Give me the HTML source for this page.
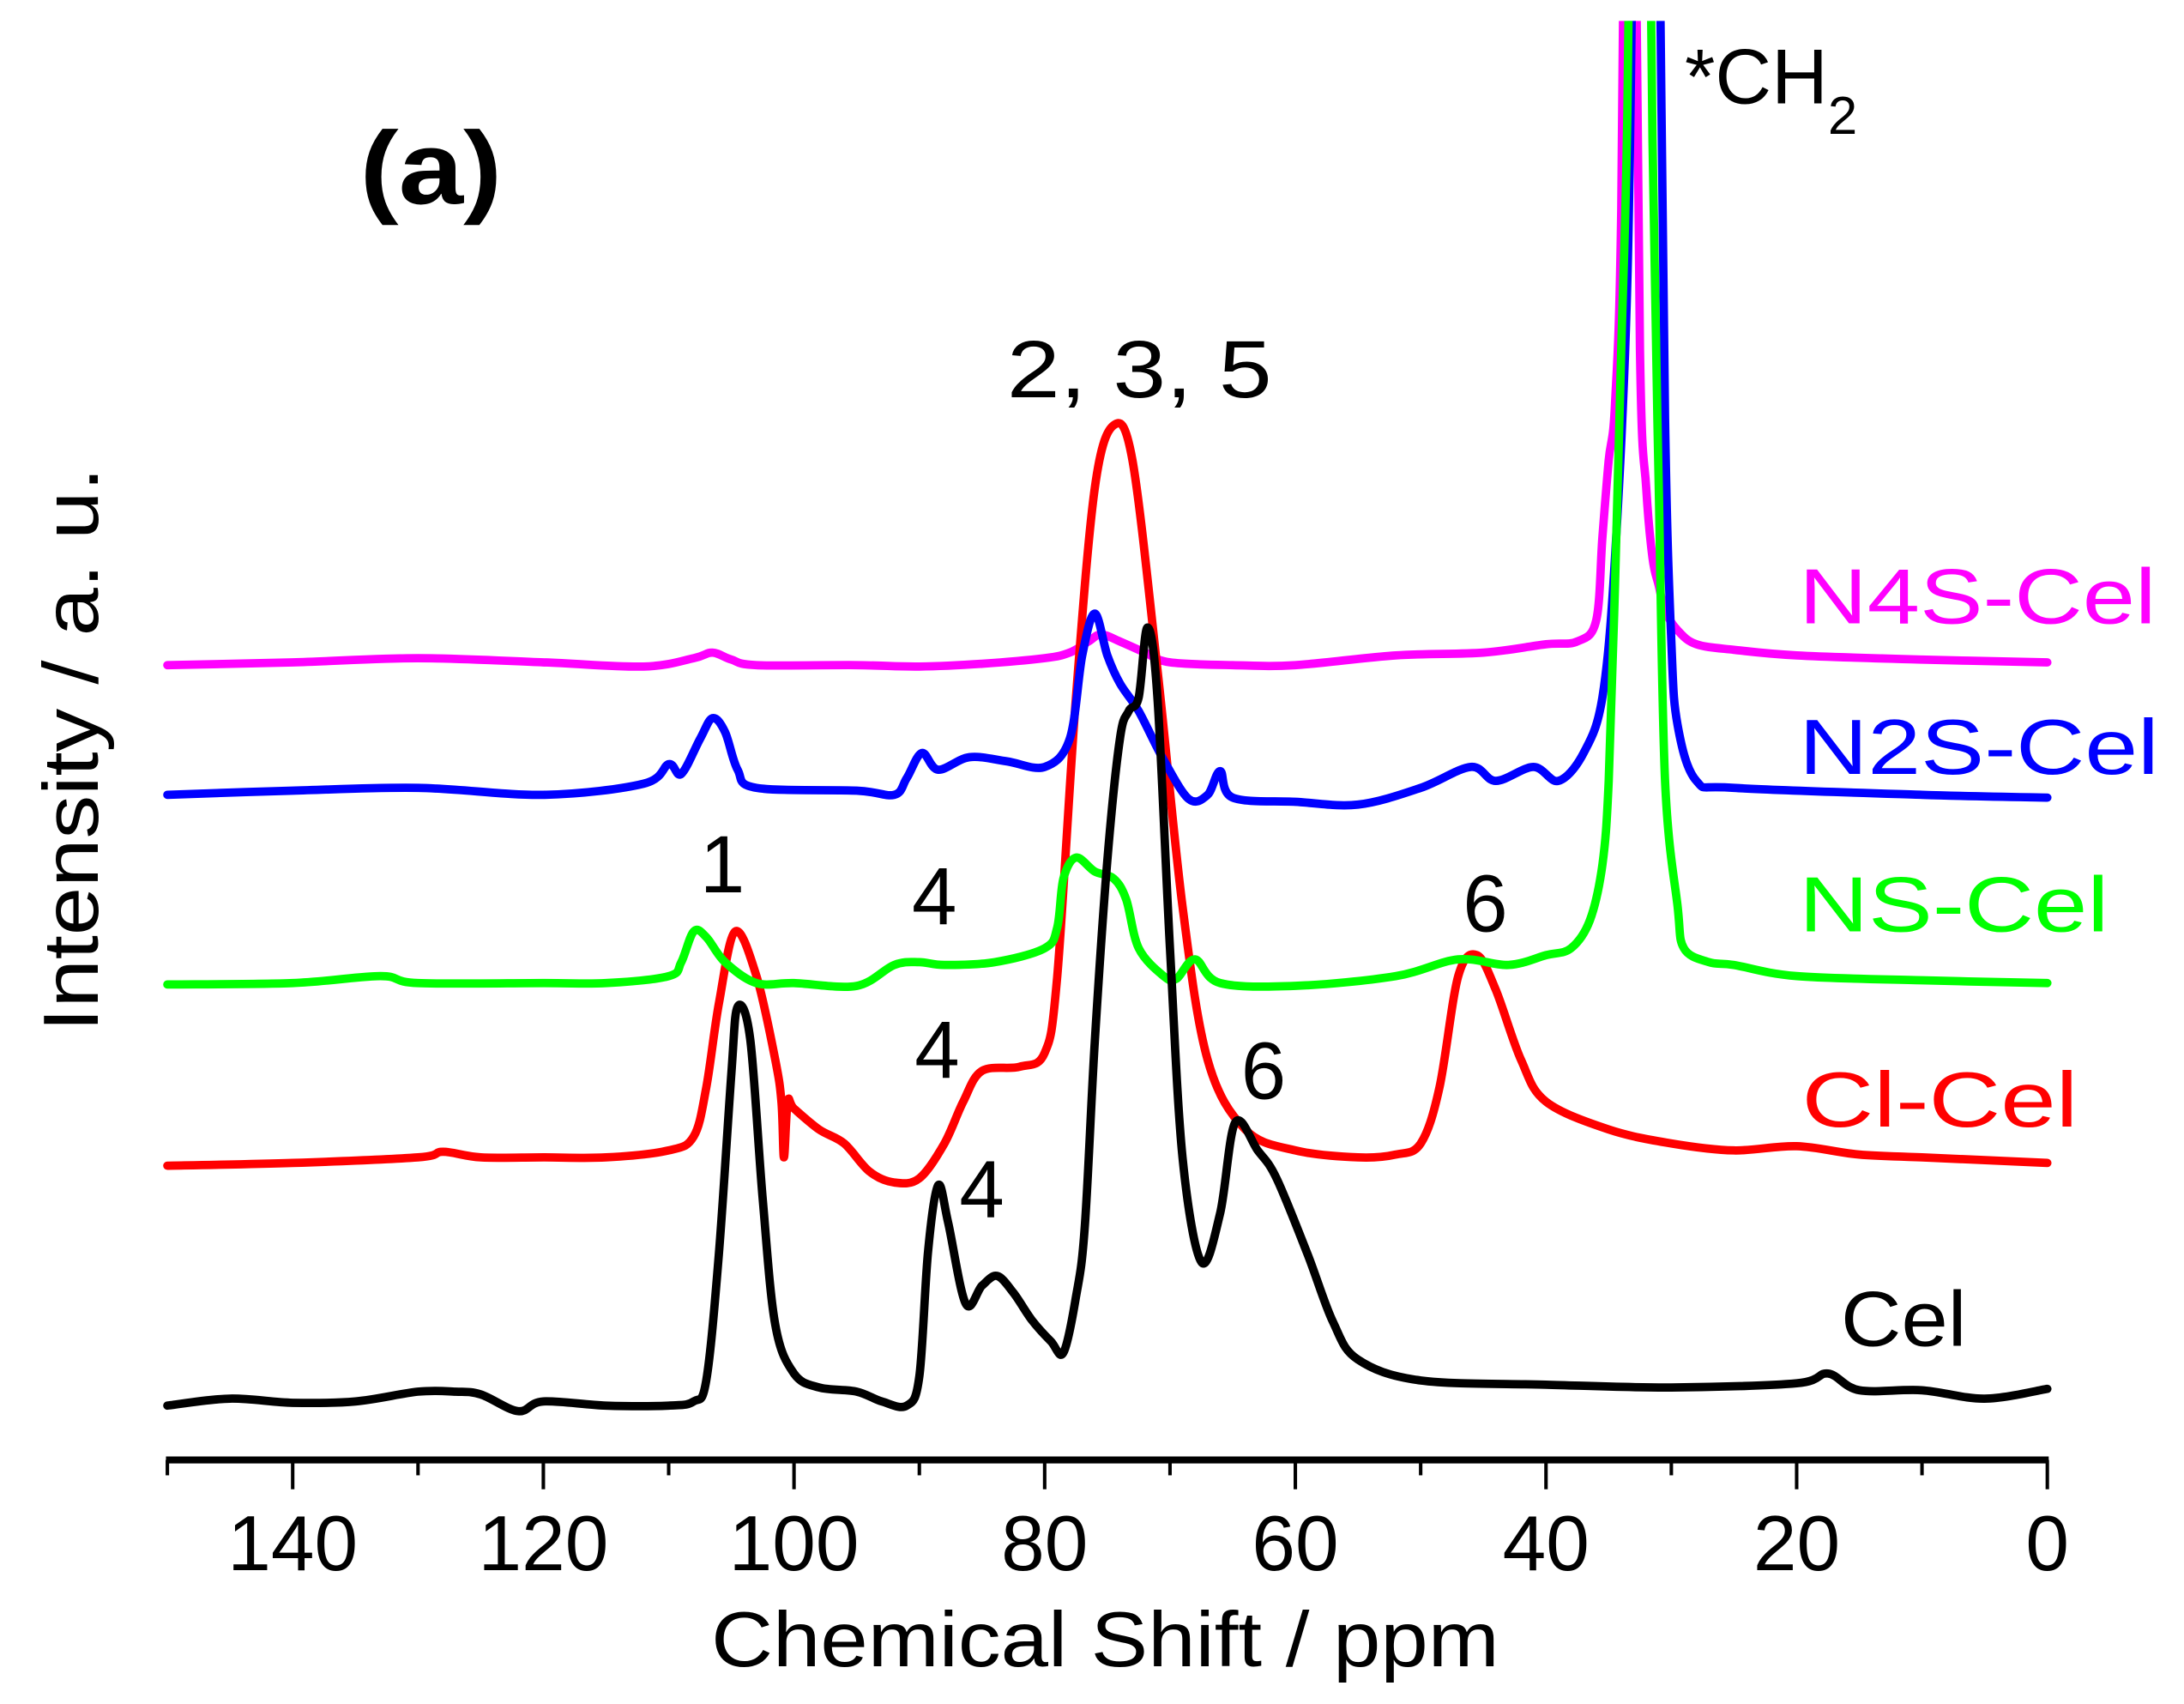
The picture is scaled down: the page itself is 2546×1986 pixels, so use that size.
<!DOCTYPE html>
<html><head><meta charset="utf-8"><style>
html,body{margin:0;padding:0;background:#fff;}
svg{display:block;}
text{font-family:"Liberation Sans",Arial,sans-serif;}
</style></head><body>
<svg id="chart" width="2546" height="1986" viewBox="0 0 1566 1222" preserveAspectRatio="none" xmlns="http://www.w3.org/2000/svg">
<defs><clipPath id="plotclip"><rect x="100" y="15" width="1400" height="1030"/></clipPath></defs>
<g id="axes"></g>
<g id="series" clip-path="url(#plotclip)"></g>
<text x="258" y="146" font-size="74" font-weight="bold" textLength="102" lengthAdjust="spacingAndGlyphs">(a)</text>
<text x="1208" y="74" font-size="56">*CH<tspan font-size="38" dy="22">2</tspan></text>
<text x="722" y="285" font-size="58" textLength="190" lengthAdjust="spacingAndGlyphs">2, 3, 5</text>
<text x="518" y="640" font-size="58" text-anchor="middle">1</text>
<text x="670" y="663" font-size="58" text-anchor="middle">4</text>
<text x="672" y="773" font-size="58" text-anchor="middle">4</text>
<text x="704" y="873" font-size="58" text-anchor="middle">4</text>
<text x="1065" y="668" font-size="58" text-anchor="middle">6</text>
<text x="906" y="788" font-size="58" text-anchor="middle">6</text>
<text x="1290" y="447" font-size="56" fill="#ff00ff" textLength="256" lengthAdjust="spacingAndGlyphs">N4S-Cel</text>
<text x="1290" y="555" font-size="56" fill="#0000ff" textLength="258" lengthAdjust="spacingAndGlyphs">N2S-Cel</text>
<text x="1290" y="668" font-size="56" fill="#00ff00" textLength="222" lengthAdjust="spacingAndGlyphs">NS-Cel</text>
<text x="1292" y="808" font-size="56" fill="#ff0000" textLength="198" lengthAdjust="spacingAndGlyphs">Cl-Cel</text>
<text x="1320" y="965" font-size="56" fill="#000" textLength="90" lengthAdjust="spacingAndGlyphs">Cel</text>
<text x="510" y="1195" font-size="56" textLength="565" lengthAdjust="spacingAndGlyphs">Chemical Shift / ppm</text>
<text transform="translate(70,740) rotate(-90)" font-size="56" textLength="405" lengthAdjust="spacingAndGlyphs">Intensity / a. u.</text>
</svg>
<script>
const xTickValues=[140,120,100,80,60,40,20,0];
const xTickLabels=["140","120","100","80","60","40","20","0"];
const xMinorTicks=[150,130,110,90,70,50,30,10];

const celPpm=[150,145,140,135,130,127,125,122,120,115,110,108,107,106,105,104.5,103.5,102.5,101.5,100,98,95,93,91,90,89.3,88.5,87.7,86.3,85,83.8,82.5,81,79.5,78.5,77.5,76.8,76,75,74,73.3,72.5,71.8,71,70,69,67.5,66,64.8,63,61.5,59,57,55,50,40,30,20,17.5,15,10,5,0];
const celInt=[39,44,41,42,49,49,47,35,42,39,39,42,57,147,277,325,302,187,97,62,52,49,42,39,60,150,197,170,112,125,132,120,100,85,77,117,167,300,430,517,537,547,597,547,367,217,142,177,242,222,202,147,99,72,57,54,52,55,62,50,50,44,51];

const clPpm=[150,140,130,128,125,120,115,110,108,107,106,104.7,103,101.5,101,100.8,100.5,100,98,96,94,92,90,88,86.5,85,82,80,79,77.5,76,74.5,73,71,69,67,64,60,55,52,50,48.5,47,45.5,44,42,40,35,30,25,20,15,10,0];
const clInt=[211,213,217,221,217,217,217,222,232,267,327,379,347,287,257,217,257,252,237,227,207,199,202,227,257,279,282,292,347,547,697,742,717,567,397,287,237,222,217,219,227,267,347,362,337,287,257,237,227,222,225,219,217,213];

const nsPpm=[150,140,133,130,120,115,110,109,108,107,105.5,103,100,95,92,90,88,84,80,79,78.5,77.5,76,74.5,73.5,72.5,70.5,69.5,68,66,60,52,47,43,40,38,36.5,35.5,35,34.5,34,33.5,33,32.5,32,31.5,31,30.5,29.5,29,27,25,20,10,0];
const nsInt=[341,342,347,342,342,342,347,357,379,375,357,342,342,340,355,357,355,357,367,382,417,432,422,417,402,367,347,345,359,342,340,347,359,355,362,367,387,427,487,627,797,967,1347,1447,1347,947,697,487,397,367,357,355,347,344,342];

const n2sPpm=[150,140,130,120,112,110,109,107.5,106.5,105.5,104.5,103,95,92,91,89.8,88.5,86,83,80,78,77,76,75,74,72.5,70.5,68.5,67,66,65,60,55,50,46,44,41,39,37,35.5,34.5,33.5,33,32.5,32,31.5,31,30.5,30,29.5,28,25,10,0];
const n2sInt=[477,480,482,477,485,499,492,517,532,522,495,482,480,477,489,507,495,504,501,497,517,577,607,577,557,537,502,474,477,494,475,472,470,482,497,487,497,487,507,547,647,847,1147,1447,1497,1447,1147,747,587,527,487,482,477,475];

const n4sPpm=[150,140,130,120,112,108,106.5,105,103,95,90,85,80,78,76.5,75.5,74,72,70,65,60,52,45,40,37.5,36,35.5,35,34.5,34,33.5,33,32.5,32,31.5,31,30.5,29.5,28,25,20,10,0];
const n4sInt=[570,572,575,572,569,575,579,574,570,570,569,571,575,579,587,592,587,579,572,570,570,577,579,585,587,602,662,717,757,897,1347,1247,797,697,647,627,609,595,585,581,577,574,572];

const NS="http://www.w3.org/2000/svg";
const X0=120,X1=1468,AXY=1047;
function xScale(p){return X0+(150-p)*(X1-X0)/150;}
function yScale(v){return AXY-v;}

const axes=document.getElementById('axes');
const axisLine=document.createElementNS(NS,'line');
axisLine.setAttribute('x1',X0-1);axisLine.setAttribute('x2',X1+1);
axisLine.setAttribute('y1',AXY);axisLine.setAttribute('y2',AXY);
axisLine.setAttribute('stroke','#000');axisLine.setAttribute('stroke-width','5');


axes.appendChild(axisLine);
xTickValues.forEach((v,i)=>{
  const t=document.createElementNS(NS,'line');
  t.setAttribute('x1',xScale(v));t.setAttribute('x2',xScale(v));
  t.setAttribute('y1',AXY);t.setAttribute('y2',AXY+21);
  t.setAttribute('stroke','#000');t.setAttribute('stroke-width','2.5');
  
  
  axes.appendChild(t);
  const l=document.createElementNS(NS,'text');
  l.setAttribute('x',xScale(v));l.setAttribute('y',AXY+79);
  l.setAttribute('font-size','56');l.setAttribute('text-anchor','middle');
  l.textContent=xTickLabels[i];
  
  
  axes.appendChild(l);
});
xMinorTicks.forEach(v=>{
  const t=document.createElementNS(NS,'line');
  t.setAttribute('x1',xScale(v));t.setAttribute('x2',xScale(v));
  t.setAttribute('y1',AXY);t.setAttribute('y2',AXY+11);
  t.setAttribute('stroke','#000');t.setAttribute('stroke-width','2.5');
  
  
  axes.appendChild(t);
});

const seriesG=document.getElementById('series');
function smoothPath(pts){
  let d='M'+pts[0][0].toFixed(1)+','+pts[0][1].toFixed(1);
  for(let i=0;i<pts.length-1;i++){
    const p0=pts[Math.max(0,i-1)],p1=pts[i],p2=pts[i+1],p3=pts[Math.min(pts.length-1,i+2)];
    const c1=[p1[0]+(p2[0]-p0[0])/6,p1[1]+(p2[1]-p0[1])/6];
    const c2=[p2[0]-(p3[0]-p1[0])/6,p2[1]-(p3[1]-p1[1])/6];
    d+=' C'+c1[0].toFixed(1)+','+c1[1].toFixed(1)+' '+c2[0].toFixed(1)+','+c2[1].toFixed(1)+' '+p2[0].toFixed(1)+','+p2[1].toFixed(1);
  }
  return d;
}
function drawSeries(ppm,vals,color,name){
  const pts=ppm.map((p,i)=>[xScale(p),yScale(vals[i])]);
  const pa=document.createElementNS(NS,'path');
  pa.setAttribute('d',smoothPath(pts));
  pa.setAttribute('fill','none');pa.setAttribute('stroke',color);
  pa.setAttribute('stroke-width','6');pa.setAttribute('stroke-linejoin','round');pa.setAttribute('stroke-linecap','round');
  
  
  seriesG.appendChild(pa);
}
drawSeries(n4sPpm,n4sInt,'#ff00ff','series-n4s-cel');
drawSeries(clPpm,clInt,'#ff0000','series-cl-cel');
drawSeries(n2sPpm,n2sInt,'#0000ff','series-n2s-cel');
drawSeries(nsPpm,nsInt,'#00ff00','series-ns-cel');
drawSeries(celPpm,celInt,'#000000','series-cel');
</script>
</body></html>
